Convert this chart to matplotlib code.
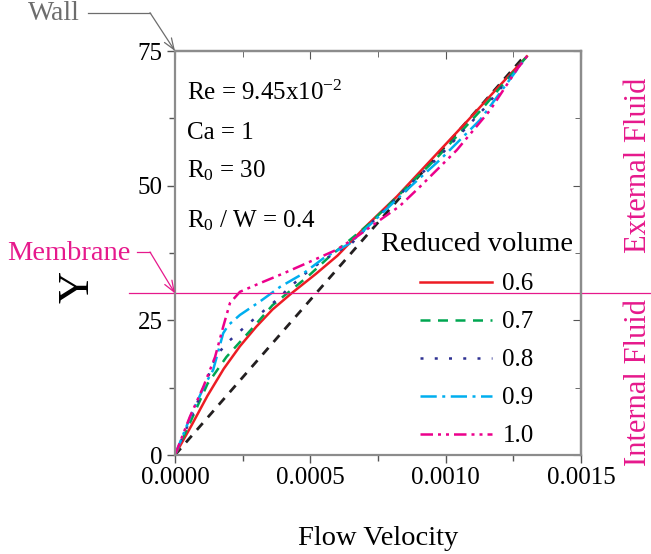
import matplotlib
matplotlib.use('Agg')
import matplotlib.pyplot as plt
from matplotlib.lines import Line2D
from matplotlib.transforms import blended_transform_factory

plt.rcParams['font.family'] = ['Liberation Serif', 'DejaVu Serif']
plt.rcParams['mathtext.fontset'] = 'custom'
plt.rcParams['mathtext.rm'] = 'Liberation Serif'
plt.rcParams['mathtext.it'] = 'Liberation Serif:italic'

# dados (velocidade x posicao Y)
v_ref = [0, 0.0003, 0.0007, 0.00129]
y_ref = [0, 17.3, 40.3, 74.0]

v_06 = [0, 0.00006, 0.00012, 0.00018, 0.00024, 0.0003, 0.00036, 0.00043, 0.00052,
        0.0006, 0.0007, 0.00082, 0.00095, 0.00108, 0.0012, 0.0013]
y_06 = [0, 5.4, 11.0, 16.0, 20.2, 23.8, 27.0, 30.0, 33.6, 37.0, 42.2, 48.0, 55.0,
        62.0, 68.6, 74.0]

v_07 = [0, 0.00006, 0.00012, 0.00019, 0.00028, 0.00036, 0.00049, 0.00057, 0.00066,
        0.00072, 0.00083, 0.00097, 0.00113, 0.0013]
y_07 = [0, 6.5, 13.2, 18.2, 23.2, 27.8, 33.1, 36.8, 40.5, 43.0, 48.4, 55.3, 64.0, 74.0]

v_08 = [0, 0.00006, 0.000117, 0.000154, 0.000203, 0.000265, 0.000376, 0.000419,
        0.000474, 0.000548, 0.000653, 0.00072, 0.00084, 0.00098, 0.00114, 0.0013]
y_08 = [0, 7.0, 13.9, 18.6, 21.3, 24.1, 28.8, 30.9, 33.4, 36.2, 39.3, 42.8, 48.8,
        55.6, 64.2, 74.0]

v_09 = [0, 0.00006, 0.00011, 0.000141, 0.000178, 0.000197, 0.00024, 0.000314,
        0.000388, 0.000474, 0.000548, 0.000646, 0.00073, 0.000856, 0.000979,
        0.001127, 0.00125, 0.0013]
y_09 = [0, 7.5, 13.0, 15.8, 22.6, 24.1, 26.0, 28.5, 31.2, 33.7, 36.5, 39.3, 43.2,
        49.2, 54.8, 62.2, 70.6, 74.0]

v_10 = [0, 0.000055, 0.000105, 0.000148, 0.000178, 0.000203, 0.00024, 0.000314,
        0.0004, 0.000486, 0.000597, 0.000671, 0.00074, 0.00083, 0.000905, 0.001041,
        0.001164, 0.001262, 0.0013]
y_10 = [0, 7.1, 12.7, 18.2, 23.8, 28.2, 30.3, 31.9, 33.7, 35.6, 38.1, 40.5, 43.0,
        46.2, 49.8, 56.6, 64.0, 71.5, 74.0]

legendas = ['0.6', '0.7', '0.8', '0.9', '1.0']
y_membrana = 30

fig = plt.figure(figsize=(6.51, 5.54), dpi=100)
ax = fig.add_axes([175/651, 1-455/554, 406/651, 404/554])

lw = 1.8
ax.plot(v_ref, y_ref, color='#231f20', lw=2.0, dashes=(3.2, 2.8))
ax.plot(v_06, y_06, color='#ed1c24', lw=lw, label=legendas[0])
ax.plot(v_07, y_07, color='#00a651', lw=lw, dashes=(4, 3), label=legendas[1])
ax.plot(v_08, y_08, color='#2e3192', lw=lw, dashes=(1.2, 4.5), label=legendas[2])
ax.plot(v_09, y_09, color='#00aeef', lw=lw, dashes=(6.5, 2.2, 1.2, 2.2), label=legendas[3])
ax.plot(v_10, y_10, color='#ec008c', lw=lw, dashes=(5, 2, 1.2, 2, 1.2, 2), label=legendas[4])

# linha da membrana, sai do eixo pros dois lados
tr = blended_transform_factory(ax.transAxes, ax.transData)
ax.plot([-0.113, 476/406], [y_membrana, y_membrana], color='#e6198c', lw=0.9,
        transform=tr, clip_on=False)

ax.set_xlim(0, 0.0015)
ax.set_ylim(0, 75)
ax.set_xticks([0, 0.0005, 0.001, 0.0015])
ax.set_xticklabels(['0.0000', '0.0005', '0.0010', '0.0015'])
ax.set_xticks([0.00025, 0.00075, 0.00125], minor=True)
ax.set_yticks([0, 25, 50, 75])
ax.set_yticks([12.5, 37.5, 62.5], minor=True)

cinza = '#8c8c8c'
for s in ax.spines.values():
    s.set_color(cinza)
    s.set_linewidth(1.6)
ax.tick_params(which='both', direction='out', color='#555555', labelsize=18,
               top=False, right=False)
ax.tick_params(which='major', length=6, width=1, pad=3)
ax.tick_params(which='minor', length=4, width=1)

# ticks pra dentro no topo e na direita
sx = ax.secondary_xaxis('top')
sx.set_xticks([0, 0.0005, 0.001, 0.0015])
sx.set_xticks([0.00025, 0.00075, 0.00125], minor=True)
sx.tick_params(which='both', direction='in', labeltop=False, color='#555555')
sx.tick_params(which='major', length=6)
sx.tick_params(which='minor', length=4)
sx.spines['top'].set_color(cinza)
sx.spines['top'].set_linewidth(1.6)
sy = ax.secondary_yaxis('right')
sy.set_yticks([0, 25, 50, 75])
sy.set_yticks([12.5, 37.5, 62.5], minor=True)
sy.tick_params(which='both', direction='in', labelright=False, color='#555555')
sy.tick_params(which='major', length=6)
sy.tick_params(which='minor', length=4)
sy.spines['right'].set_color(cinza)
sy.spines['right'].set_linewidth(1.6)

ax.set_xlabel('Flow Velocity', fontsize=20.5, labelpad=26)
ax.set_ylabel('Y', fontsize=32, labelpad=14)
ax.yaxis.set_label_coords(-0.19, 0.415)

# parametros
ax.text(0.03, 0.879, 'Re = 9.45x10$^{-2}$', transform=ax.transAxes, fontsize=18, va='baseline')
ax.text(0.03, 0.782, 'Ca = 1', transform=ax.transAxes, fontsize=18, va='baseline')
ax.text(0.03, 0.686, 'R$_0$ = 30', transform=ax.transAxes, fontsize=18, va='baseline')
ax.text(0.03, 0.564, 'R$_0$ / W = 0.4', transform=ax.transAxes, fontsize=18, va='baseline')

leg = ax.legend(title='Reduced volume', loc='upper left', bbox_to_anchor=(0.476, 0.582),
                frameon=False, fontsize=18, title_fontsize=20.5, handlelength=2.9,
                labelspacing=0.62, borderpad=0, handletextpad=0.4)

# textos do lado direito
fig.text(638/651, 1-165/554, 'External Fluid', rotation=90, color='#e6198c',
         fontsize=22, ha='center', va='center')
fig.text(638/651, 1-383/554, 'Internal Fluid', rotation=90, color='#e6198c',
         fontsize=22, ha='center', va='center')

# anotacao Wall
fig.text(28/651, 1-14/554, 'Wall', color='#6d6d6d', fontsize=20, ha='left', va='center')
fig.add_artist(Line2D([88/651, 150/651], [1-12.7/554, 1-12.7/554], color='#6d6d6d',
                      lw=0.9, transform=fig.transFigure))
ax.annotate('', xy=(0, 75), xycoords='data', xytext=(150, 554-12.7),
            textcoords='figure pixels', annotation_clip=False,
            arrowprops=dict(arrowstyle='->,head_length=0.8,head_width=0.3',
                            color='#6d6d6d', lw=0.9, shrinkA=0, shrinkB=0))

# anotacao Membrane
fig.text(7/651, 1-253/554, 'Membrane', color='#e6198c', fontsize=20.5, ha='left', va='center')
fig.add_artist(Line2D([137/651, 150/651], [1-252/554, 1-252/554], color='#e6198c',
                      lw=0.9, transform=fig.transFigure))
ax.annotate('', xy=(0, y_membrana), xycoords='data', xytext=(150, 554-252),
            textcoords='figure pixels', annotation_clip=False,
            arrowprops=dict(arrowstyle='->,head_length=0.8,head_width=0.3',
                            color='#e6198c', lw=0.9, shrinkA=0, shrinkB=0))

fig.savefig('out.png', dpi=100)
